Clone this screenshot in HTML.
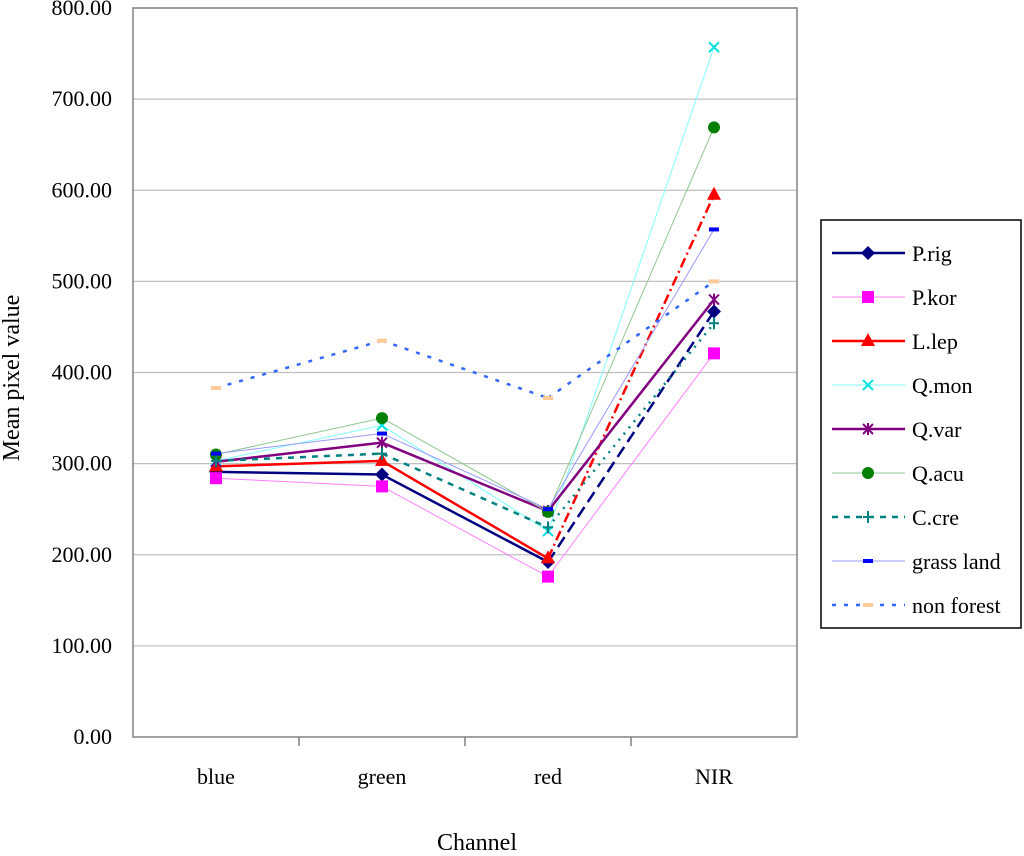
<!DOCTYPE html>
<html><head><meta charset="utf-8"><style>
body{margin:0;background:#fff;width:1024px;height:851px;overflow:hidden}
svg text{font-family:"Liberation Serif",serif;fill:#000}
</style></head><body>
<svg id="chart" width="1024" height="851" viewBox="0 0 1024 851" xmlns="http://www.w3.org/2000/svg">
<g id="grid"></g>
<g id="axes"></g>
<g id="series"></g>
<g id="legend"></g>
</svg>
<script>
const categories = ["blue","green","red","NIR"];
const seriesNames = ["P.rig","P.kor","L.lep","Q.mon","Q.var","Q.acu","C.cre","grass land","non forest"];
const vPrig = [291,288,192,467];
const vPkor = [284,275,176,421];
const vLlep = [297,303,196,595];
const vQmon = [303,342,226,757];
const vQvar = [302,323,248,480];
const vQacu = [310,350,247,669];
const vCcre = [303,311,230,454];
const vGrass = [311,333,250,557];
const vNonForest = [383,435,372,500];
const yTicks = [0,100,200,300,400,500,600,700,800];
const yTickLabels = ["0.00","100.00","200.00","300.00","400.00","500.00","600.00","700.00","800.00"];

const NS="http://www.w3.org/2000/svg";
const X0=133,X1=797,Y0=737,Y1=8,YMAX=800;
const bw=(X1-X0)/categories.length;
function xs(i){return X0+bw*(i+0.5);}
function ys(v){return Y0-(v/YMAX)*(Y0-Y1);}
function el(t,a,p){const e=document.createElementNS(NS,t);for(const k in a)e.setAttribute(k,a[k]);p.appendChild(e);return e;}

const grid=document.getElementById('grid'),axes=document.getElementById('axes'),ser=document.getElementById('series'),leg=document.getElementById('legend');
yTicks.forEach((t,i)=>{
  if(t>0){const g=el('line',{x1:X0,x2:X1,y1:ys(t),y2:ys(t),stroke:'#c0c0c0','stroke-width':1.2},grid);
  
  }
  const tx=el('text',{x:112,y:ys(t)+7,'text-anchor':'end','font-size':22},axes);tx.textContent=yTickLabels[i];
  
  
});
el('rect',{x:X0,y:Y1,width:X1-X0,height:Y0-Y1,fill:'none',stroke:'#808080','stroke-width':1.5},axes);
for(let i=1;i<categories.length;i++){el('line',{x1:X0+bw*i,x2:X0+bw*i,y1:Y0,y2:Y0+9,stroke:'#808080','stroke-width':1.5},axes);}
categories.forEach((c,i)=>{const t=el('text',{x:xs(i),y:784,'text-anchor':'middle','font-size':22},axes);t.textContent=c;
  
  });
const xt=el('text',{x:477,y:850,'text-anchor':'middle','font-size':24},axes);xt.textContent='Channel';


const yt=el('text',{x:0,y:0,'text-anchor':'middle','font-size':24,transform:'translate(19,378) rotate(-90)'},axes);yt.textContent='Mean pixel value';



const styles=[
 {v:vPrig,c:'#000080',w:2.5,d:'',d2:'12,6',m:'diamond',mc:'#000080'},
 {v:vPkor,c:'#ff80ff',w:1,d:'',d2:'',m:'square',mc:'#ff00ff'},
 {v:vLlep,c:'#ff0000',w:2.5,d:'',d2:'10,4,2,4',m:'triangle',mc:'#ff0000'},
 {v:vQmon,c:'#80ffff',w:1,d:'',d2:'',m:'x',mc:'#00e0e0'},
 {v:vQvar,c:'#800080',w:2.5,d:'',d2:'',m:'star',mc:'#800080'},
 {v:vQacu,c:'#90c890',w:1,d:'',d2:'',m:'circle',mc:'#008000'},
 {v:vCcre,c:'#008080',w:2.5,d:'6,6',d2:'2,6',m:'plus',mc:'#008080'},
 {v:vGrass,c:'#9999ff',w:1,d:'',d2:'',m:'dash',mc:'#0000ff'},
 {v:vNonForest,c:'#3366ff',w:2.5,d:'4,8',d2:'4,8',m:'dash',mc:'#ffcc99'}
];
function marker(s,x,y,p){
  const c=s.mc;let e;
  if(s.m==='diamond')e=el('polygon',{points:`${x},${y-7} ${x+7},${y} ${x},${y+7} ${x-7},${y}`,fill:c},p);
  else if(s.m==='square')e=el('rect',{x:x-6,y:y-6,width:12,height:12,fill:c},p);
  else if(s.m==='triangle')e=el('polygon',{points:`${x},${y-8} ${x+7},${y+5} ${x-7},${y+5}`,fill:c},p);
  else if(s.m==='circle')e=el('circle',{cx:x,cy:y,r:6,fill:c},p);
  else if(s.m==='x')e=el('path',{d:`M${x-5} ${y-5}L${x+5} ${y+5}M${x+5} ${y-5}L${x-5} ${y+5}`,stroke:c,'stroke-width':2},p);
  else if(s.m==='star')e=el('path',{d:`M${x-5} ${y-5}L${x+5} ${y+5}M${x+5} ${y-5}L${x-5} ${y+5}M${x} ${y-6}L${x} ${y+6}`,stroke:c,'stroke-width':2},p);
  else if(s.m==='plus')e=el('path',{d:`M${x-5} ${y}L${x+5} ${y}M${x} ${y-6}L${x} ${y+6}`,stroke:c,'stroke-width':2},p);
  else e=el('rect',{x:x-5,y:y-2,width:10,height:4,fill:c},p);
  return e;
}
styles.forEach((s,k)=>{
  const g=el('g',{},ser);
  
  
  for(let i=0;i<s.v.length-1;i++){
    const d=(i===s.v.length-2)?s.d2:s.d;
    const a={x1:xs(i),y1:ys(s.v[i]),x2:xs(i+1),y2:ys(s.v[i+1]),stroke:s.c,'stroke-width':s.w};
    if(d)a['stroke-dasharray']=d;
    el('line',a,g);
  }
  s.v.forEach((v,i)=>{const m=marker(s,xs(i),ys(v),g);
    
    });
  const ly=253+k*44;
  const lg=el('g',{},leg);
  
  
  const la={x1:832,x2:905,y1:ly,y2:ly,stroke:s.c,'stroke-width':s.w};
  if(s.d)la['stroke-dasharray']=s.d;
  el('line',la,lg);
  marker(s,868,ly,lg);
  const t=el('text',{x:912,y:ly+8,'font-size':22},lg);t.textContent=seriesNames[k];
});
const lb=el('rect',{x:821,y:220,width:200,height:408,fill:'none',stroke:'#000','stroke-width':1.5},leg);


</script>
</body></html>
